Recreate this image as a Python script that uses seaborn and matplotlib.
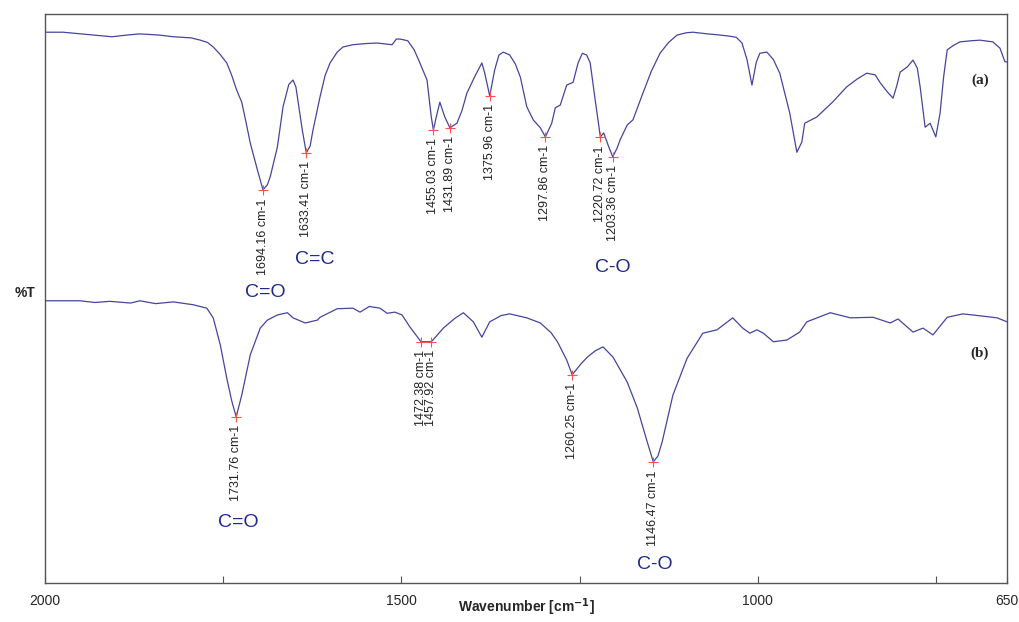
import numpy as np
import pandas as pd
import matplotlib
matplotlib.use('Agg')
import matplotlib.pyplot as plt
import seaborn as sns

# Spectrum (a): wavenumber [cm-1] and %T
wn_a = [2000, 1975, 1940, 1906, 1885, 1867, 1840, 1820, 1795, 1782, 1772, 1764, 1755, 1745,
        1738, 1731, 1724, 1718, 1712, 1702,
        1694.16, 1688, 1684, 1674, 1666, 1658, 1652, 1648, 1639, 1633.41, 1628, 1624, 1614,
        1607, 1600, 1590, 1582, 1568, 1550, 1534, 1513, 1507, 1502, 1491, 1482, 1474, 1464,
        1458, 1455.03, 1451, 1446, 1439, 1431.89, 1422, 1415, 1408, 1397, 1387, 1383,
        1375.96, 1369, 1363, 1357, 1348, 1340, 1333,
        1324, 1315, 1305, 1297.86, 1289, 1284, 1277, 1268, 1259, 1252, 1246, 1240, 1235, 1228,
        1220.72, 1216, 1210, 1203.36, 1197, 1193, 1183, 1175, 1161, 1149, 1137, 1125, 1113,
        1100, 1091, 1070, 1053, 1039, 1030, 1022, 1015, 1008, 1002, 997, 987, 978, 969, 955,
        945, 938, 934, 917, 895, 875, 860, 847, 835, 828, 818,
        810, 805, 800, 790, 782, 776, 772, 765, 758, 750, 744, 739, 734, 725, 716, 700, 688,
        670, 660, 653, 650]
t_a = [96.8, 96.8, 96.4, 96.0, 96.3, 96.5, 96.3, 96.0, 95.8, 95.4, 95.0, 94.2, 93.0, 91.4,
       89.2, 86.6, 84.5, 81.0, 77.3, 72.6,
       69.1, 70.0, 71.4, 76.6, 83.7, 87.6, 88.4, 87.2, 79.6, 75.6, 76.8, 79.6, 85.5,
       89.2, 91.4, 93.3, 94.2, 94.6, 94.8, 94.9, 94.6, 95.6, 95.6, 95.3, 93.7, 91.4, 88.4,
       81.9, 79.6, 81.9, 84.5, 81.9, 80.0, 80.8, 83.0, 86.1, 89.0, 91.4, 89.6,
       85.6, 90.2, 92.8, 93.3, 92.8, 91.2, 88.9,
       83.7, 81.4, 80.0, 78.4, 80.8, 83.5, 84.0, 87.5, 88.0, 91.4, 93.1, 92.8, 91.4, 84.9,
       78.4, 79.1, 77.0, 74.9, 76.5, 77.9, 80.5, 81.4, 86.1, 90.0, 93.1, 95.0, 96.3,
       96.7, 96.8, 96.5, 96.3, 96.1, 95.9, 94.9, 92.0, 87.5, 91.5, 93.1, 93.3, 92.0, 89.6, 82.6,
       75.7, 77.5, 80.8, 81.9, 84.5, 87.2, 88.6, 89.6, 89.3, 87.9, 86.3,
       85.2, 87.3, 89.8, 90.7, 91.9, 90.5, 87.2, 80.1, 80.8, 78.4, 82.6, 89.0, 93.7, 94.5, 95.1, 95.3, 95.4,
       95.1, 94.0, 91.6, 91.6]

# Spectrum (b)
wn_b = [2000, 1951, 1930, 1909, 1880, 1867, 1845, 1820, 1792, 1773, 1764, 1754, 1745,
        1738, 1731.76, 1724, 1712, 1698, 1688, 1674, 1660, 1652, 1635, 1618, 1614,
        1590, 1568, 1558, 1545, 1530, 1520, 1509, 1499, 1488, 1472.38, 1457.92,
        1441, 1425, 1413, 1399, 1387, 1376, 1360, 1348, 1324, 1305, 1290, 1281, 1268, 1260.25,
        1248, 1239, 1228, 1217, 1203, 1183, 1169, 1155, 1146.47, 1140, 1134, 1119, 1099, 1077,
        1057, 1035, 1021, 1011, 1001, 992, 978, 959, 941, 931, 898, 870, 838,
        814, 803, 782, 768, 754, 734, 712, 684, 664, 650]
t_b = [49.6, 49.6, 49.3, 49.5, 49.2, 49.6, 49.1, 49.4, 48.9, 48.3, 46.6, 41.8, 36.0,
       32.0, 29.2, 33.0, 40.1, 44.8, 46.2, 47.1, 47.5, 46.6, 45.7, 46.2, 46.7,
       48.2, 48.3, 47.6, 48.6, 48.3, 47.4, 47.6, 47.1, 45.0, 42.4, 42.4,
       44.8, 46.5, 47.5, 45.9, 43.2, 45.9, 47.0, 47.3, 46.6, 45.7, 44.0, 42.4, 39.2, 36.6,
       38.5, 39.7, 40.8, 41.5, 39.7, 35.3, 30.8, 24.8, 21.3, 22.3, 24.8, 33.0, 39.5, 43.9,
       44.5, 46.6, 44.8, 43.9, 44.5, 43.9, 42.4, 42.7, 44.1, 45.9, 47.5, 46.6, 46.7,
       45.7, 46.4, 44.1, 44.8, 43.6, 46.7, 47.3, 46.9, 46.6, 45.9]

peaks_a = [1694.16, 1633.41, 1455.03, 1431.89, 1375.96, 1297.86, 1220.72, 1203.36]
peaks_b = [1731.76, 1472.38, 1457.92, 1260.25, 1146.47]

# functional group notes: text, wavenumber, %T
groups = [('C=O', 1691, 51.0), ('C=C', 1621, 56.9), ('C-O', 1203, 55.4),
          ('C=O', 1729, 10.7), ('C-O', 1144, 3.2)]

df_a = pd.DataFrame({'wn': wn_a, 'T': t_a})
df_b = pd.DataFrame({'wn': wn_b, 'T': t_b})

sns.set_style('white')
plt.rcParams['font.family'] = ['Liberation Sans', 'DejaVu Sans']

fig = plt.figure(figsize=(10.19, 6.22), dpi=100)
ax = fig.add_axes([0.0442, 0.0627, 0.9441, 0.9148])

line_col = '#45459c'
sns.lineplot(data=df_a, x='wn', y='T', sort=False, estimator=None, color=line_col, lw=0.9, ax=ax)
sns.lineplot(data=df_b, x='wn', y='T', sort=False, estimator=None, color=line_col, lw=0.9, ax=ax)

# peak markers and labels
for peaks, df in [(peaks_a, df_a), (peaks_b, df_b)]:
    xs = df['wn'].values[::-1]
    ys = df['T'].values[::-1]
    pt = np.interp(peaks, xs, ys)
    ax.plot(peaks, pt, ls='none', marker='+', ms=7, mew=0.8, color='#ff5050', zorder=3)
    for p, t in zip(peaks, pt):
        ax.annotate(f'{p:.2f} cm-1', xy=(p, t), xytext=(0, -6), textcoords='offset points',
                    rotation=90, ha='center', va='top', fontsize=9, color='#222222')

for txt, x, y in groups:
    ax.text(x, y, txt, ha='center', va='center', fontsize=14, color='#1f2a8f')

ax.text(688, 88.4, '(a)', fontsize=11, fontweight='bold', family='Liberation Serif', ha='center', va='center')
ax.text(688, 40.4, '(b)', fontsize=11, fontweight='bold', family='Liberation Serif', ha='center', va='center')

ax.set_xlim(2000, 650)
ax.set_ylim(0, 100)
ax.set_xticks([2000, 1500, 1000, 650])
ax.set_xticks([1750, 1250, 750], minor=True)
ax.set_yticks([])
ax.tick_params(axis='x', which='both', direction='in', length=5, width=0.8, color='#555555',
               labelsize=10, pad=8, bottom=True)
ax.set_xlabel(r'Wavenumber [cm$^{\mathbf{-1}}$]', fontsize=10, fontweight='bold', va='center')
ax.xaxis.set_label_coords(0.5, -0.043)
ax.set_ylabel('%T', rotation=0, fontsize=10, fontweight='bold', va='center', ha='center')
ax.yaxis.set_label_coords(-0.021, 0.51)

for s in ax.spines.values():
    s.set_color('#555555')
    s.set_linewidth(1.0)

plt.savefig('out.png', dpi=100)
